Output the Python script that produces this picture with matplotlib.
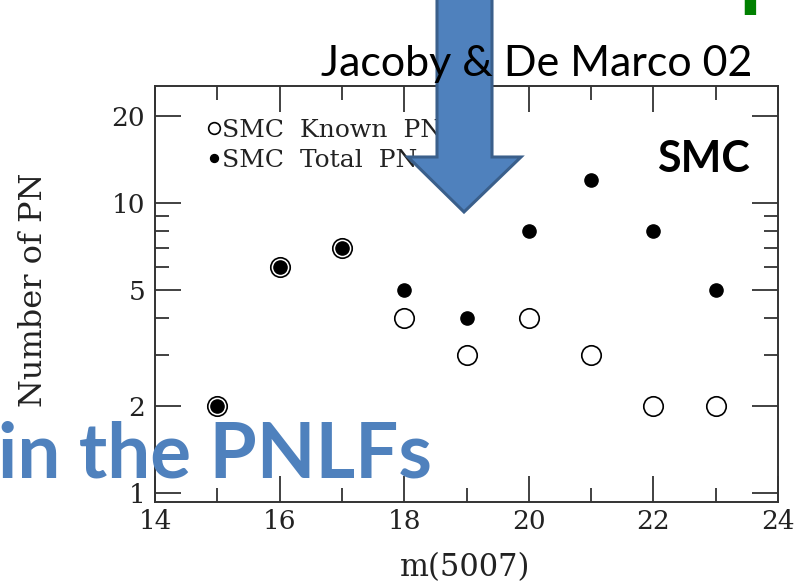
import numpy as np
import matplotlib
matplotlib.use("Agg")
import matplotlib.pyplot as plt
from matplotlib.patches import Polygon
from matplotlib.ticker import FixedLocator, FixedFormatter, MultipleLocator

# PNLF counts per magnitude bin
mag = [15, 16, 17, 18, 19, 20, 21, 22, 23]
known_pn = [2, 6, 7, 4, 3, 4, 3, 2, 2]
total_pn = [2, 6, 7, 5, 4, 8, 12, 8, 5]

y_major = [1, 2, 5, 10, 20]
y_minor = [3, 4, 6, 7, 8, 9]

W, H = 810, 585
fig = plt.figure(figsize=(W / 100, H / 100), dpi=100)
ax = fig.add_axes([155 / W, 1 - 502 / H, 623 / W, 416 / H])

serif = "DejaVu Serif"
ink = "#333333"
txt = "#222222"

ax.plot(mag, known_pn, "o", ms=14, mfc="white", mec="black", mew=1.2,
        label="SMC  Known  PN", zorder=3)
ax.plot(mag, total_pn, "o", ms=9.5, mfc="black", mec="black",
        label="SMC  Total  PN", zorder=4)

ax.set_yscale("log")
ax.set_xlim(14, 24)
ax.set_ylim(0.93, 25.3)
ax.xaxis.set_major_locator(MultipleLocator(2))
ax.xaxis.set_minor_locator(MultipleLocator(1))
ax.yaxis.set_major_locator(FixedLocator(y_major))
ax.yaxis.set_major_formatter(FixedFormatter([str(v) for v in y_major]))
ax.yaxis.set_minor_locator(FixedLocator(y_minor))
ax.yaxis.set_minor_formatter(FixedFormatter([""] * len(y_minor)))

ax.tick_params(which="both", direction="in", top=True, right=True,
               color=ink, width=1.3, labelsize=19, labelcolor=txt)
ax.tick_params(which="major", length=19)
ax.tick_params(which="minor", length=10)
ax.tick_params(axis="y", pad=7)
ax.tick_params(axis="x", pad=5)
for lab in ax.get_xticklabels() + ax.get_yticklabels():
    lab.set_family(serif)
for sp in ax.spines.values():
    sp.set_color(ink)
    sp.set_linewidth(1.4)

ax.set_xlabel("m(5007)", family=serif, fontsize=22, color=txt)
ax.set_ylabel("Number of PN", family=serif, fontsize=23, color=txt)
ax.xaxis.set_label_coords(0.498, -0.12)
ax.yaxis.set_label_coords(-0.17, 0.51)

leg = ax.legend(loc="upper left", bbox_to_anchor=(0.07, 0.945), frameon=False,
                handlelength=0.4, handletextpad=0.15, labelspacing=0.28,
                markerscale=0.6, borderaxespad=0,
                prop={"family": serif, "size": 18})
for t in leg.get_texts():
    t.set_color(txt)

# slide overlay in pixel coordinates
over = fig.add_axes([0, 0, 1, 1])
over.set_xlim(0, W)
over.set_ylim(H, 0)
over.axis("off")
over.patch.set_alpha(0)

arrow = Polygon([(437, -5), (492, -5), (492, 157), (521, 157), (464, 212),
                 (408, 157), (437, 157)], closed=True,
                facecolor="#4F81BD", edgecolor="#3A5F8B", lw=2.2, zorder=5)
over.add_patch(arrow)

sans = ["Lato", "DejaVu Sans"]
over.text(752, 76, "Jacoby & De Marco 02", family=sans, fontsize=31,
          ha="right", va="baseline", color="black", zorder=6)
over.text(703, 172, "SMC", family=sans, fontsize=31, fontweight="bold",
          ha="center", va="baseline", color="black", zorder=6)
over.text(-2, 478, "in the PNLFs", family=sans, fontsize=55, fontweight="bold",
          ha="left", va="baseline", color="#4F81BD", zorder=6)
over.text(535, -1, "Group", family=sans, fontsize=66, fontweight="bold",
          ha="left", va="baseline", color="#008000", zorder=6)

fig.savefig("out.png", dpi=100)
